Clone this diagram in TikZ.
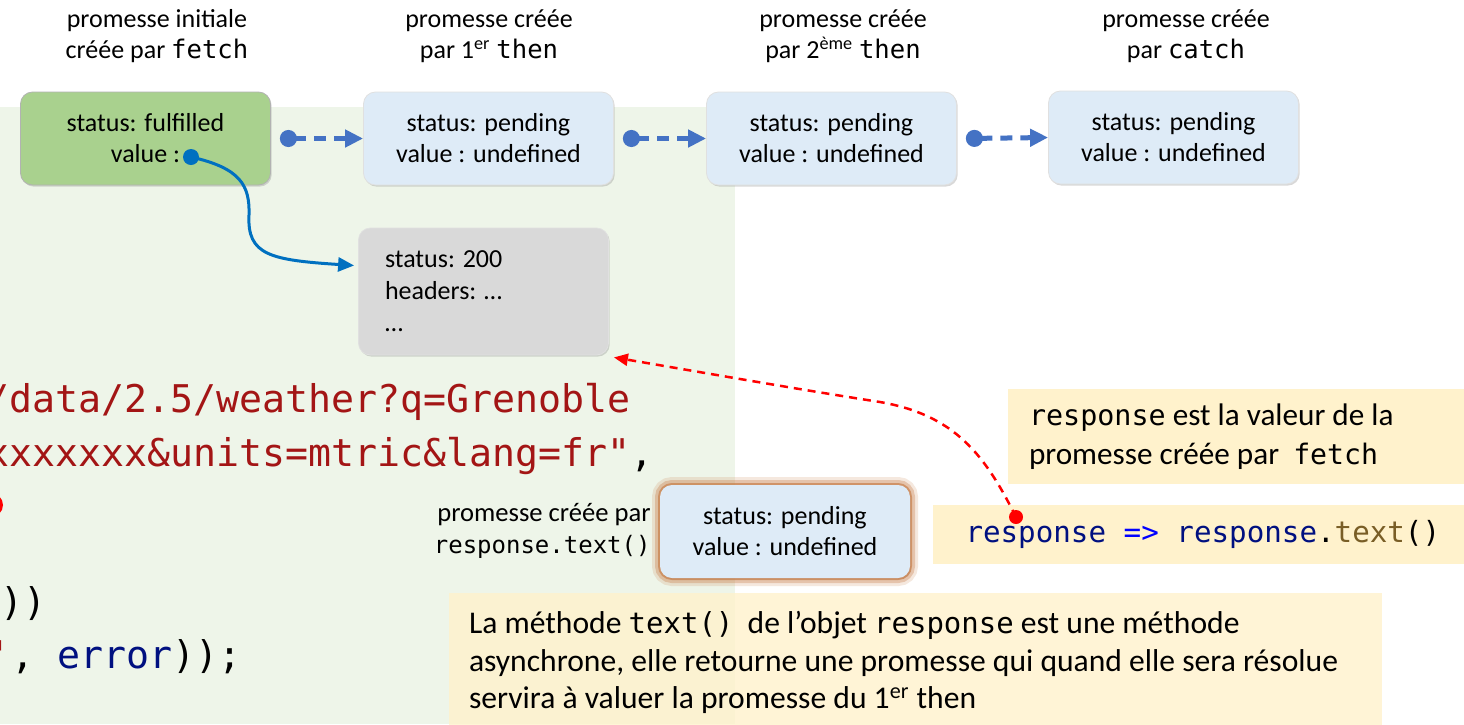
\documentclass[tikz,border=0pt]{standalone}
\usepackage{fontspec}
\setmainfont{Carlito}
\setmonofont{DejaVu Sans Mono}
\usetikzlibrary{arrows.meta,shadows,calc}
\definecolor{bggreen}{RGB}{238,245,233}
\definecolor{boxgreen}{RGB}{169,209,142}
\definecolor{boxblue}{RGB}{222,235,247}
\definecolor{boxgray}{RGB}{217,217,217}
\definecolor{noteyellow}{RGB}{255,242,204}
\definecolor{linkblue}{RGB}{68,114,196}
\definecolor{curveblue}{RGB}{0,112,192}
\definecolor{strred}{RGB}{163,21,21}
\definecolor{codenavy}{RGB}{0,16,128}
\definecolor{kwblue}{RGB}{0,0,255}
\definecolor{fnbrown}{RGB}{121,94,38}
\definecolor{glowc}{RGB}{200,128,76}
\newcommand\hmono[1]{{\fontsize{12.8}{15.5}\selectfont\ttfamily #1}}
\newcommand\lmono[1]{{\fontsize{12}{16}\selectfont\ttfamily #1}}
\newcommand\nmono[1]{{\fontsize{14.2}{19.5}\selectfont\ttfamily #1}}
\newcommand\bmono[1]{{\fontsize{14.5}{19}\selectfont\ttfamily #1}}
\begin{document}
\begin{tikzpicture}[x=0.5pt,y=-0.5pt,
  header/.style={align=center, inner sep=0pt, font=\fontsize{13}{15.5}\selectfont},
  promise/.style={rounded corners=6pt, minimum width=125pt, minimum height=46.5pt,
    align=center, inner sep=0pt, font=\fontsize{13}{15.5}\selectfont,
    drop shadow={shadow xshift=0.6pt,shadow yshift=-0.8pt,opacity=0.3}},
  glowbox/.style={preaction={draw=glowc, line width=8pt, draw opacity=0.18},
    preaction={draw=glowc, line width=5pt, draw opacity=0.35},
    preaction={draw=glowc, line width=2pt, draw opacity=0.7}},
  link/.style={linkblue, line width=2.5pt, dash pattern=on 6pt off 4pt,
    {Circle[length=8.5pt]}-{Triangle[length=9pt,width=8.5pt]}},
  curve/.style={curveblue, line width=1.5pt, -{Triangle[length=8pt,width=7pt]}},
  redlink/.style={red, line width=1.25pt, dash pattern=on 4pt off 3pt,
    -{Triangle[length=7pt,width=6pt]}},
  note/.style={fill=noteyellow, inner sep=0pt},
  code/.style={inner sep=0pt, font=\fontsize{19.1}{26}\selectfont\ttfamily}]
\useasboundingbox (0,0) rectangle (1464,724);
\fill[white] (0,0) rectangle (1464,724);
\fill[bggreen] (0,107) rectangle (735,724);

% headers
\node[header] (h0) at (157,36) {promesse initiale\\créée par \hmono{fetch}};
\node[header] (h1) at (489,36) {promesse créée\\par 1\textsuperscript{er} \hmono{then}};
\node[header] (h2) at (843,36) {promesse créée\\par 2\textsuperscript{ème} \hmono{then}};
\node[header] (h3) at (1186,36) {promesse créée\\par \hmono{catch}};

% promise chain
\node[promise, fill=boxgreen, draw=black!30] (p0) at (145.5,138.5) {status: fulfilled\\value :};
\node[promise, fill=boxblue, draw=black!12] (p1) at (488.5,138.5) {status: pending\\value : undefined};
\node[promise, fill=boxblue, draw=black!12] (p2) at (831.5,138.5) {status: pending\\value : undefined};
\node[promise, fill=boxblue, draw=black!12] (p3) at (1173.5,137.5) {status: pending\\value : undefined};

\draw[link] ([xshift=4.5pt]p0.east) -- (p1.west);
\draw[link] ([xshift=4.5pt]p1.east) -- (p2.west);
\draw[link] ([xshift=4.5pt]p2.east) -- (p3.west);

% response object
\node[promise, fill=boxgray, draw=black!12, minimum height=63.5pt, text width=98.5pt,
  align=flush left, inner xsep=13pt, font=\fontsize{13}{16}\selectfont] (resp) at (483.5,291.5)
  {status: 200\\headers: …\\…};

\coordinate (vdot) at (191,157);
\draw[curve] (vdot) .. controls (240,168) and (250,185) .. (249,215)
  .. controls (247,255) and (270,260) .. ([xshift=-2pt,yshift=13pt]resp.west);
\fill[curveblue] (vdot) circle (4pt);

% left code
\node[code, anchor=base west] (c1) at (-14,412) {\color{strred}/data/2.5/weather?q=Grenoble};
\node[code, anchor=base west] (c2) at (-14,466) {\color{strred}xxxxxxx\&units=mtric\&lang=fr"\color{black},};
\fill[red] (-9,505) circle (6pt);
\node[code, anchor=base west] (c4) at (0,615) {))};
\node[code, anchor=base west] (c5) at (-12,668) {\color{strred}'\color{black}, \color{codenavy}error\color{black}));};

% response.text() promise
\node[header, anchor=east, align=right, font=\fontsize{13.3}{16}\selectfont] (tl) at (651,531)
  {promesse créée par\\\lmono{response.text()}};
\node[promise, fill=boxblue, glowbox] (tp) at (785,531.5) {status: pending\\value : undefined};

% notes
\node[note, minimum width=227pt, minimum height=47.5pt, text width=210pt, inner xsep=10.5pt,
  align=flush left, font=\fontsize{15.6}{19.5}\selectfont] (n1) at (1239,436.5)
  {\nmono{response} est la valeur de la\\promesse créée par \ \nmono{\fontsize{14.1}{19.5}\selectfont fetch}};
\node[note, minimum width=265.5pt, minimum height=29.5pt, text width=250pt, inner xsep=8pt,
  align=flush left] (n2) at (1198.5,534.5)
  {\hspace*{8.5pt}\fontsize{14.6}{18}\selectfont\ttfamily\color{codenavy}response \color{kwblue}=> \color{codenavy}response\color{black}.\color{fnbrown}text\color{black}()};
\node[note, fill opacity=0.8, text opacity=1, minimum width=466.5pt, minimum height=69.5pt,
  text width=446.5pt, inner xsep=10pt, align=flush left, font=\fontsize{15.8}{18.75}\selectfont] (n3) at (915.5,662.5)
  {La méthode \bmono{text()} \ de l’objet \bmono{response} est une méthode\\asynchrone, elle retourne une promesse qui quand elle sera résolue\\servira à valuer la promesse du 1\textsuperscript{er} then};

% red dashed link
\coordinate (rdot) at (1016,517);
\draw[redlink] (rdot) .. controls (985,455) and (955,415) .. (880,402)
  .. controls (790,388) and (700,372) .. ([xshift=2.5pt,yshift=-1pt]resp.south east);
\fill[red] (rdot) circle (3.5pt);
\end{tikzpicture}
\end{document}
